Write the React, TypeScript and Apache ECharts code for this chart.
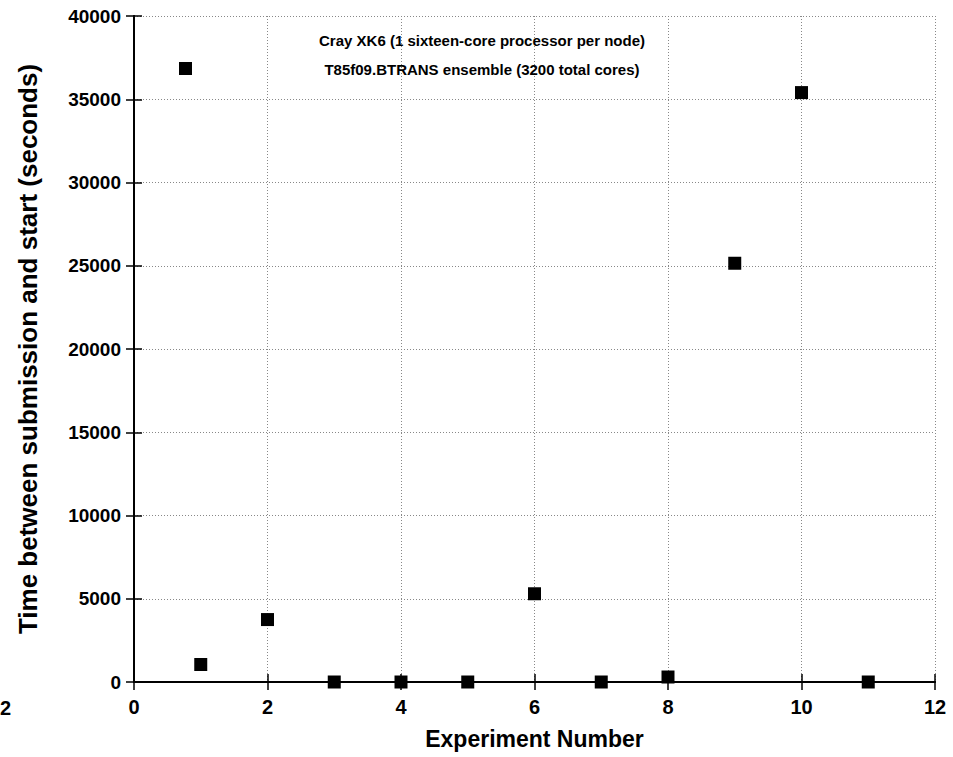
import React, { useEffect, useRef } from "react";
import * as echarts from "echarts";

const experiments = [1, 2, 3, 4, 5, 6, 7, 8, 9, 10, 11];
const waitSeconds = [1050, 3750, 0, 0, 0, 5300, 0, 300, 25150, 35400, 0];
const titleLines = [
  "Cray XK6 (1 sixteen-core processor per node)",
  "T85f09.BTRANS ensemble (3200 total cores)",
];
const xTitle = "Experiment Number";
const yTitle = "Time between submission and start (seconds)";

const NARROW = "'Liberation Sans Narrow', 'Liberation Sans', Arial, sans-serif";
const WIDE = "'Liberation Sans', Arial, sans-serif";

export default function App() {
  const ref = useRef<HTMLDivElement>(null);
  useEffect(() => {
    document.body.style.margin = "0";
    const chart = echarts.init(ref.current!, undefined, { renderer: "svg" });
    const seriesName = titleLines.join("\n");
    const axisLine = { show: true, lineStyle: { color: "#000", width: 2 } };
    const tick = { show: true, inside: true, length: 8, lineStyle: { color: "#000", width: 1.5 } };
    const split = { show: true, lineStyle: { color: "#888", type: [1, 2] as any, width: 1 } };
    chart.setOption({
      animation: false,
      backgroundColor: "#fff",
      title: {
        text: seriesName,
        left: 477,
        top: 21,
        textAlign: "center",
        textStyle: {
          fontFamily: NARROW,
          fontWeight: "bold",
          fontSize: 15,
          lineHeight: 29,
          color: "#000",
          align: "center",
        },
      },
      legend: {
        left: 179,
        top: 62,
        padding: 0,
        itemWidth: 13,
        itemHeight: 13,
        icon: "rect",
        formatter: () => "",
        data: [seriesName],
        selectedMode: false,
      },
      grid: { left: 134, right: 18, top: 16, bottom: 75, containLabel: false },
      xAxis: [
        {
          type: "value",
          min: 0,
          max: 12,
          interval: 2,
          axisLine,
          axisTick: tick,
          splitLine: split,
          axisLabel: {
            margin: 15,
            fontFamily: NARROW,
            fontWeight: "bold",
            fontSize: 20,
            color: "#000",
          },
          name: xTitle,
          nameLocation: "middle",
          nameGap: 45,
          nameTextStyle: {
            fontFamily: NARROW,
            fontWeight: "bold",
            fontSize: 23,
            color: "#000",
          },
        },
        {
          type: "value",
          position: "top",
          min: 0,
          max: 12,
          interval: 2,
          axisLine,
          axisTick: tick,
          splitLine: { show: false },
          axisLabel: { show: false },
        },
      ],
      yAxis: [
        {
          type: "value",
          min: 0,
          max: 40000,
          interval: 5000,
          axisLine,
          axisTick: tick,
          splitLine: split,
          axisLabel: {
            margin: 13,
            fontFamily: WIDE,
            fontWeight: "bold",
            fontSize: 19,
            color: "#000",
            formatter: (v: number) => String(v),
          },
          name: yTitle,
          nameLocation: "middle",
          nameRotate: 90,
          nameGap: 93,
          nameTextStyle: {
            fontFamily: WIDE,
            fontWeight: "bold",
            fontSize: 26,
            color: "#000",
          },
        },
        {
          type: "value",
          position: "right",
          min: 0,
          max: 40000,
          interval: 5000,
          axisLine,
          axisTick: tick,
          splitLine: { show: false },
          axisLabel: { show: false },
        },
      ],
      graphic: [
        {
          type: "text",
          x: 0,
          y: 708,
          style: {
            text: "2",
            align: "left",
            verticalAlign: "middle",
            fontFamily: NARROW,
            fontWeight: "bold",
            fontSize: 20,
            fill: "#000",
          },
        },
      ],
      series: [
        {
          name: seriesName,
          type: "scatter",
          symbol: "rect",
          symbolSize: 13,
          itemStyle: { color: "#000", opacity: 1 },
          data: experiments.map((x, i) => [x, waitSeconds[i]]),
          clip: false,
        },
      ],
    });
    return () => chart.dispose();
  }, []);
  return <div ref={ref} style={{ width: 953, height: 757 }} />;
}
